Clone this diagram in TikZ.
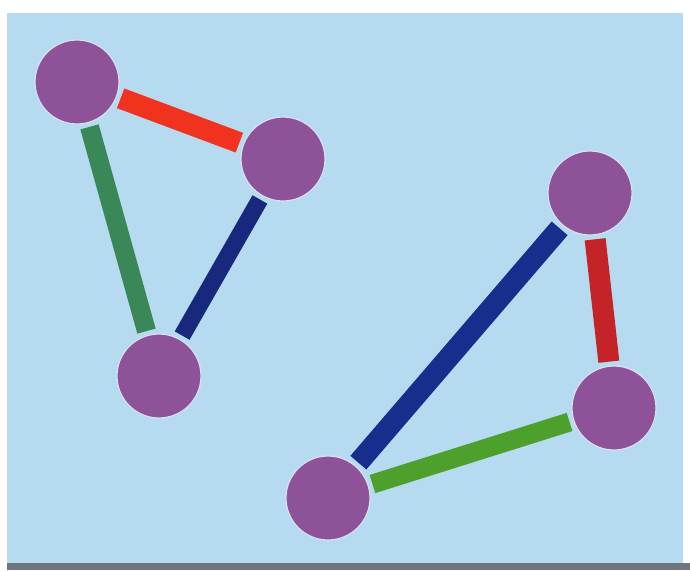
\documentclass[tikz,border=0pt]{standalone}
\usetikzlibrary{calc}
\definecolor{bgblue}{RGB}{182,218,240}
\definecolor{ballpurple}{RGB}{142,82,152}
\definecolor{halo}{RGB}{214,226,242}
\definecolor{redA}{RGB}{240,50,30}
\definecolor{redB}{RGB}{196,36,40}
\definecolor{greenA}{RGB}{58,136,88}
\definecolor{greenB}{RGB}{78,160,44}
\definecolor{navyA}{RGB}{24,40,124}
\definecolor{navyB}{RGB}{24,46,140}
\definecolor{edgegray}{RGB}{112,118,126}
\tikzset{
  ball/.style={circle, minimum size=84pt, inner sep=0pt, fill=ballpurple, draw=halo, line width=1.2pt},
  bar/.style={line cap=butt, shorten <=4pt, shorten >=4pt}
}
\begin{document}
\begin{tikzpicture}[x=1pt,y=-1pt]
\useasboundingbox (0,0) rectangle (690,570);
\fill[white] (0,0) rectangle (690,570);
\fill[bgblue] (7,13) rectangle (683,563);
\fill[edgegray] (7,563) rectangle (690,570);

\node[ball] (A) at (77,82) {};
\node[ball] (B) at (283,159) {};
\node[ball] (C) at (159,376) {};
\node[ball] (D) at (590,193) {};
\node[ball] (E) at (614,408) {};
\node[ball] (F) at (328,498) {};

\draw[bar, redA, line width=21pt] (A) -- (B);
\draw[bar, greenA, line width=19pt] (A) -- (C);
\draw[bar, navyA, line width=17pt] (B) -- (C);
\draw[bar, navyB, line width=21pt] (D) -- (F);
\draw[bar, redB, line width=21pt] (D) -- (E);
\draw[bar, greenB, line width=19pt] (E) -- (F);
\end{tikzpicture}
\end{document}
